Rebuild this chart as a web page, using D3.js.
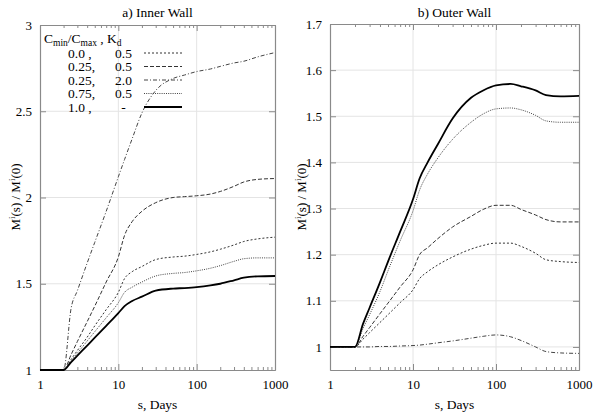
<!DOCTYPE html>
<html><head><meta charset="utf-8">
<script src="https://cdn.jsdelivr.net/npm/d3@7"></script>
</head>
<body style="margin:0"><svg id="c" width="600" height="418"></svg>
<script>
// ---- data ----
const sDays = [1,2,2.5,3,4,5,7,10,12,15,20,30,50,70,100,150,200,300,400,600,1000];
const xTicks = [1,10,100,1000];
const yTicksInner = [1,1.5,2,2.5,3];
const yTicksOuter = [1,1.1,1.2,1.3,1.4,1.5,1.6,1.7];
const seriesKeys = ["r00_k05","r025_k05","r025_k20","r075_k05","r10"];
const legendRatio = ["0.0 ,","0.25,","0.25,","0.75,","1.0 ,"];
const legendKd = ["0.5","0.5","2.0","0.5","-"];

// Inner wall
const inner_r00_k05  = [1,1,1.062,1.113,1.19,1.256,1.35,1.45,1.53,1.57,1.60,1.64,1.655,1.66,1.67,1.685,1.70,1.725,1.745,1.76,1.77];
const inner_r025_k05 = [1,1,1.09,1.165,1.28,1.37,1.51,1.655,1.78,1.86,1.92,1.97,2.0,2.005,2.01,2.02,2.035,2.065,2.09,2.105,2.11];
const inner_r025_k20 = [1,1,1.36,1.46,1.62,1.74,1.92,2.12,2.22,2.34,2.49,2.62,2.69,2.71,2.73,2.745,2.76,2.78,2.79,2.815,2.84];
const inner_r075_k05 = [1,1,1.054,1.098,1.168,1.222,1.303,1.39,1.45,1.48,1.51,1.545,1.56,1.565,1.575,1.59,1.605,1.63,1.645,1.65,1.65];
const inner_r10      = [1,1,1.046,1.083,1.142,1.187,1.256,1.33,1.37,1.40,1.425,1.46,1.472,1.475,1.48,1.49,1.50,1.52,1.535,1.543,1.545];

// Outer wall
const outer_r00_k05  = [1,1,1.017,1.031,1.053,1.07,1.096,1.124,1.148,1.163,1.178,1.195,1.212,1.22,1.225,1.225,1.218,1.203,1.189,1.185,1.183];
const outer_r025_k05 = [1,1,1.023,1.042,1.072,1.095,1.13,1.167,1.20,1.215,1.235,1.26,1.283,1.298,1.307,1.307,1.298,1.286,1.276,1.271,1.271];
const outer_r025_k20 = [1,1,1.0,1.0,1.001,1.001,1.002,1.003,1.004,1.006,1.009,1.013,1.019,1.023,1.026,1.022,1.014,1.0,0.99,0.987,0.986];
const outer_r075_k05 = [1,1,1.04,1.07,1.12,1.165,1.23,1.295,1.34,1.375,1.41,1.45,1.487,1.505,1.516,1.518,1.514,1.502,1.49,1.487,1.487];
const outer_r10      = [1,1,1.05,1.085,1.14,1.185,1.25,1.32,1.365,1.40,1.44,1.495,1.54,1.556,1.567,1.570,1.565,1.556,1.546,1.543,1.544];

// ---- styles ----
const styles = {
  r00_k05:  {dash:"2,2",     w:1,   c:"#333"},
  r025_k05: {dash:"4,2",     w:1,   c:"#333"},
  r025_k20: {dash:"4,2,1,2", w:1,   c:"#444"},
  r075_k05: {dash:"1,1.2",   w:1,   c:"#444"},
  r10:      {dash:null,      w:1.8, c:"#000"}
};
const svg = d3.select("#c");
function txt(sel, size){
  return sel.style("font-family","'Liberation Serif'").attr("font-size",size).attr("fill","#000");
}

function panel(o){
  const x = d3.scaleLog().domain([1,1000]).range([o.x0,o.x1]);
  const y = d3.scaleLinear().domain(o.ydom).range([370,o.ytop]);
  const g = svg.append("g");
  g.selectAll(".gx").data(xTicks.slice(1,-1)).join("line")
    .attr("x1",d=>x(d)).attr("x2",d=>x(d)).attr("y1",370).attr("y2",y(o.ydom[1]))
    .attr("stroke","#e4e4e4").attr("stroke-width",1);
  g.selectAll(".gy").data(o.yticks.filter(v=>v>o.ydom[0]&&v<o.ydom[1])).join("line")
    .attr("x1",o.x0).attr("x2",o.x1).attr("y1",d=>y(d)).attr("y2",d=>y(d))
    .attr("stroke","#e4e4e4").attr("stroke-width",1);
  const top = y(o.ydom[1]);
  const minor = [];
  [1,10,100].forEach(dec=>{for(let k=2;k<=9;k++) minor.push(dec*k);});
  const axCol = "#8a8a8a";
  const ab = d3.axisBottom(x).tickValues(xTicks).tickFormat(d3.format("d")).tickSizeInner(-6).tickSizeOuter(0).tickPadding(10);
  const gb = g.append("g").attr("transform",`translate(0,370)`).call(ab);
  const at = d3.axisTop(x).tickValues(xTicks).tickFormat("").tickSizeInner(-6).tickSizeOuter(0);
  const gt = g.append("g").attr("transform",`translate(0,${top})`).call(at);
  const mb = d3.axisBottom(x).tickValues(minor).tickFormat("").tickSizeInner(-3).tickSizeOuter(0);
  const gmb = g.append("g").attr("transform",`translate(0,370)`).call(mb);
  const mt = d3.axisTop(x).tickValues(minor).tickFormat("").tickSizeInner(-3).tickSizeOuter(0);
  const gmt = g.append("g").attr("transform",`translate(0,${top})`).call(mt);
  const al = d3.axisLeft(y).tickValues(o.yticks).tickFormat(d=>String(d)).tickSizeInner(-6).tickSizeOuter(0).tickPadding(8);
  const gl = g.append("g").attr("transform",`translate(${o.x0},0)`).call(al);
  const ar = d3.axisRight(y).tickValues(o.yticks).tickFormat("").tickSizeInner(-6).tickSizeOuter(0);
  const gr = g.append("g").attr("transform",`translate(${o.x1},0)`).call(ar);
  [gb,gt,gmb,gmt,gl,gr].forEach(a=>{
    a.attr("font-family",null).attr("font-size",null);
    a.selectAll("path").attr("stroke",axCol).attr("stroke-width",1.2);
    a.selectAll("line").attr("stroke",axCol);
    txt(a.selectAll("text"),13);
  });
  const line = d3.line().x((d,i)=>x(sDays[i])).y(d=>y(d)).curve(d3.curveMonotoneX);
  seriesKeys.forEach(k=>{
    const st = styles[k];
    g.append("path").attr("d",line(o.data[k])).attr("fill","none")
      .attr("stroke",st.c).attr("stroke-width",st.w)
      .attr("stroke-dasharray",st.dash);
  });
  txt(svg.append("text"),13.5).attr("x",(o.x0+o.x1)/2).attr("y",17).attr("text-anchor","middle").text(o.title);
  txt(svg.append("text"),13.5).attr("x",(o.x0+o.x1)/2).attr("y",409).attr("text-anchor","middle").text("s, Days");
  const yl = txt(svg.append("text"),13).attr("transform",`translate(${o.ylx},197) rotate(-90)`)
    .attr("text-anchor","middle");
  yl.append("tspan").text("M");
  yl.append("tspan").attr("dy",-5).attr("font-size",9).text("i");
  yl.append("tspan").attr("dy",5).text("(s) / M");
  yl.append("tspan").attr("dy",-5).attr("font-size",9).text("i");
  yl.append("tspan").attr("dy",5).text("(0)");
  return {x,y};
}

panel({x0:40,x1:275,ydom:[1,3],ytop:25,yticks:yTicksInner,title:"a) Inner Wall",ylx:20,
  data:{r00_k05:inner_r00_k05,r025_k05:inner_r025_k05,r025_k20:inner_r025_k20,r075_k05:inner_r075_k05,r10:inner_r10}});
panel({x0:330,x1:579,ydom:[0.95,1.7],ytop:24,yticks:yTicksOuter,title:"b) Outer Wall",ylx:306,
  data:{r00_k05:outer_r00_k05,r025_k05:outer_r025_k05,r025_k20:outer_r025_k20,r075_k05:outer_r075_k05,r10:outer_r10}});

// legend
const lg = svg.append("g");
const hdr = txt(lg.append("text"),13.5).attr("x",44).attr("y",42.5);
hdr.append("tspan").text("C");
hdr.append("tspan").attr("dy",3.5).attr("font-size",9.5).text("min");
hdr.append("tspan").attr("dy",-3.5).text("/C");
hdr.append("tspan").attr("dy",3.5).attr("font-size",9.5).text("max");
hdr.append("tspan").attr("dy",-3.5).text(" , K");
hdr.append("tspan").attr("dy",3.5).attr("font-size",9.5).text("d");
seriesKeys.forEach((k,i)=>{
  const yy = 53 + i*13.5;
  txt(lg.append("text"),13.5).attr("x",68).attr("y",yy+4.5)
    .attr("xml:space","preserve").text(legendRatio[i]);
  txt(lg.append("text"),13.5).attr("x",123.5).attr("y",yy+4.5).attr("text-anchor","middle").text(legendKd[i]);
  const st = styles[k];
  lg.append("line").attr("x1",144).attr("x2",182).attr("y1",yy).attr("y2",yy)
    .attr("stroke",st.c).attr("stroke-width",st.w).attr("stroke-dasharray",st.dash);
});
</script></body></html>
